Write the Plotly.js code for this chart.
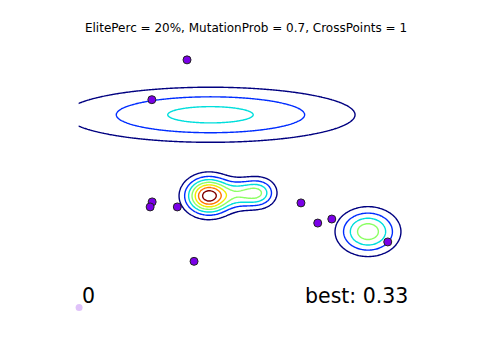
<!DOCTYPE html>
<html>
<head>
<meta charset="utf-8">
<script src="https://cdn.plot.ly/plotly-3.0.1.min.js"></script>
<style>html,body{margin:0;padding:0;background:#fff;}#chart{width:480px;height:360px;}</style>
</head>
<body>
<div id="chart"></div>
<script>
// Fitness landscape: sum of Gaussian peaks (parameters)
const peakX      = [-1.06, -1.11, 0.40, -0.15, 3.64];
const peakY      = [ 2.65, -0.57, -0.45, -0.50, -1.99];
const peakSX     = [ 2.78,  0.44, 0.33,  0.35, 0.56];
const peakSY     = [ 0.705, 0.47, 0.38,  0.38, 0.565];
const peakHeight = [ 0.50,  1.145, 0.52, 0.40, 0.70];

// Domain of the landscape
const domainMin = -5, domainMax = 5, gridN = 251;

// Population (generation 0)
const popX = [-1.76, -2.81, -2.80, -2.86, -2.05, 1.64, 2.14, 2.56, 4.23, -1.55];
const popY = [ 4.83,  3.25, -0.81, -1.01, -1.01, -0.85, -1.65, -1.49, -2.40, -3.17];

// Faded marker
const fadedX = [-4.98];
const fadedY = [-5.0];

const titleText = "ElitePerc = 20%, MutationProb = 0.7, CrossPoints = 1";
const generationLabel = "0";
const bestLabel = "best: 0.33";

// contour levels
const levelStart = 0.15, levelEnd = 1.05, levelStep = 0.15;

// grid
const gx = [], gy = [];
for (let i = 0; i < gridN; i++) {
  const v = domainMin + (domainMax - domainMin) * i / (gridN - 1);
  gx.push(v); gy.push(v);
}
const gz = gy.map(y => gx.map(x => {
  let s = 0;
  for (let k = 0; k < peakX.length; k++) {
    const dx = (x - peakX[k]) / peakSX[k];
    const dy = (y - peakY[k]) / peakSY[k];
    s += peakHeight[k] * Math.exp(-0.5 * (dx * dx + dy * dy));
  }
  return s;
}));

const levelColors = [
  [0, 'rgb(0,0,128)'],
  [1/6, 'rgb(0,45,255)'],
  [2/6, 'rgb(0,222,220)'],
  [3/6, 'rgb(140,255,100)'],
  [4/6, 'rgb(240,235,0)'],
  [5/6, 'rgb(255,115,0)'],
  [1, 'rgb(128,0,0)']
];

const data = [
  {
    type: 'contour', x: gx, y: gy, z: gz,
    contours: {coloring: 'lines', start: levelStart, end: levelEnd + 1e-6, size: levelStep, showlabels: false},
    line: {width: 1.4, smoothing: 1},
    colorscale: levelColors, showscale: false, hoverinfo: 'skip'
  },
  {
    type: 'scatter', mode: 'markers', x: fadedX, y: fadedY,
    marker: {size: 7, color: 'rgba(123,0,232,0.24)', line: {width: 0}},
    hoverinfo: 'skip', showlegend: false
  },
  {
    type: 'scatter', mode: 'markers', x: popX, y: popY,
    marker: {size: 8, color: '#7a00e8', line: {width: 1, color: '#222'}},
    hoverinfo: 'skip', showlegend: false
  }
];

const axis = {showgrid: false, zeroline: false, showticklabels: false, ticks: '', showline: false};

const layout = {
  width: 480, height: 360,
  margin: {l: 60, r: 48, t: 43, b: 40, pad: 0},
  paper_bgcolor: '#fff', plot_bgcolor: '#fff',
  font: {family: 'DejaVu Sans', color: '#000'},
  showlegend: false,
  title: {text: titleText, font: {family: 'DejaVu Sans', size: 12, color: '#000'},
          xref: 'paper', x: 0.5, xanchor: 'center', yref: 'container', y: 0.9236, yanchor: 'middle'},
  xaxis: Object.assign({range: [-5.55, 5.55]}, axis),
  yaxis: Object.assign({range: [-5.5, 5.5]}, axis),
  annotations: [
    {xref: 'x', yref: 'y', x: -4.946, y: -4.54, text: generationLabel, showarrow: false,
     xanchor: 'left', yanchor: 'middle', font: {family: 'DejaVu Sans', size: 20.5, color: '#000'}},
    {xref: 'x', yref: 'y', x: 4.88, y: -4.54, text: bestLabel, showarrow: false,
     xanchor: 'right', yanchor: 'middle', font: {family: 'DejaVu Sans', size: 20.5, color: '#000'}}
  ]
};

Plotly.newPlot('chart', data, layout, {staticPlot: true, displayModeBar: false});
</script>
</body>
</html>
